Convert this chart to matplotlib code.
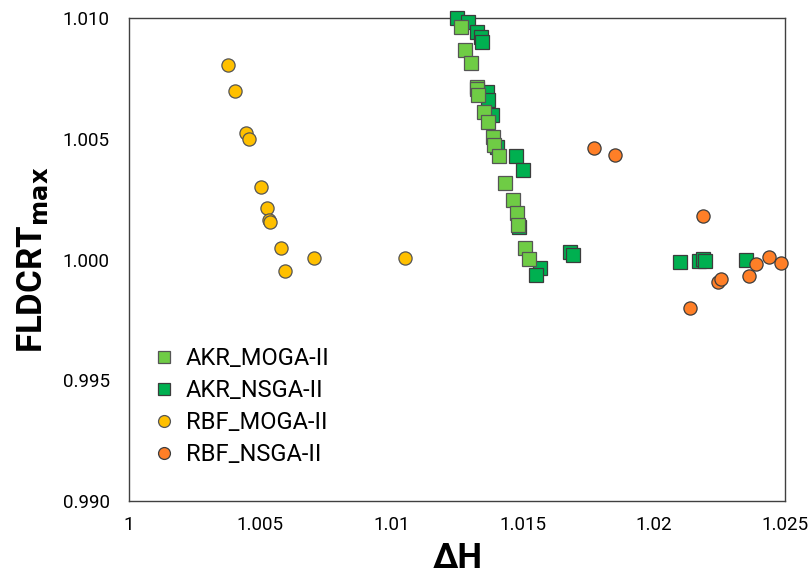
import numpy as np
import matplotlib.pyplot as plt

plt.rcParams['font.family'] = ['Roboto', 'DejaVu Sans']

# AKR_MOGA-II
akr_moga_x = [1.01267, 1.01282, 1.01303, 1.01325, 1.01326, 1.01331, 1.01353, 1.01369,
              1.01388, 1.01391, 1.01411, 1.01434, 1.01462, 1.01479, 1.01483, 1.01511, 1.01526]
akr_moga_y = [1.00961, 1.00867, 1.00812, 1.00716, 1.00706, 1.00682, 1.00609, 1.00569,
              1.00508, 1.00475, 1.00429, 1.00316, 1.00246, 1.00193, 1.00143, 1.00046, 1.00001]
# AKR_NSGA-II
akr_nsga_x = [1.01249, 1.01293, 1.01325, 1.01340, 1.01344, 1.01363, 1.01369, 1.01382,
              1.01401, 1.01476, 1.01503, 1.01486, 1.01566, 1.01551, 1.01681, 1.01693,
              1.02100, 1.02174, 1.02186, 1.02195, 1.02350]
akr_nsga_y = [1.00999, 1.00982, 1.00943, 1.00923, 1.00899, 1.00695, 1.00660, 1.00598,
              1.00467, 1.00427, 1.00371, 1.00135, 0.99964, 0.99936, 1.00032, 1.00019,
              0.99988, 0.99995, 1.00001, 0.99995, 0.99998]
# RBF_MOGA-II
rbf_moga_x = [1.00376, 1.00404, 1.00445, 1.00457, 1.00502, 1.00527, 1.00534, 1.00536,
              1.00578, 1.00596, 1.00705, 1.01053]
rbf_moga_y = [1.00805, 1.00698, 1.00525, 1.00498, 1.00301, 1.00215, 1.00164, 1.00154,
              1.00046, 0.99954, 1.00006, 1.00006]
# RBF_NSGA-II
rbf_nsga_x = [1.01773, 1.01853, 1.02189, 1.02137, 1.02244, 1.02257, 1.02363, 1.02390,
              1.02440, 1.02486]
rbf_nsga_y = [1.00460, 1.00433, 1.00179, 0.99799, 0.99908, 0.99921, 0.99932, 0.99980,
              1.00009, 0.99986]

xticks = [1, 1.005, 1.01, 1.015, 1.02, 1.025]
xticklabels = ['1', '1.005', '1.01', '1.015', '1.02', '1.025']
yticks = [0.990, 0.995, 1.000, 1.005, 1.010]

fig = plt.figure(figsize=(8.08, 5.77), dpi=100)
ax = fig.add_axes([0.1597, 0.1317, 0.8118, 0.8371])

ms = 9.5
ec = '#3c3c3c'
ax.plot(akr_nsga_x, akr_nsga_y, 's', ms=ms, mfc='#00b050', mec=ec, mew=0.9,
        clip_on=False, zorder=3, label='AKR_NSGA-II')
ax.plot(akr_moga_x, akr_moga_y, 's', ms=ms, mfc='#6fcc45', mec='#555555', mew=0.9,
        clip_on=False, zorder=4, label='AKR_MOGA-II')
ax.plot(rbf_moga_x, rbf_moga_y, 'o', ms=ms, mfc='#ffc000', mec='#555555', mew=0.9,
        clip_on=False, zorder=4, label='RBF_MOGA-II')
ax.plot(rbf_nsga_x, rbf_nsga_y, 'o', ms=ms, mfc='#ff7f27', mec=ec, mew=0.9,
        clip_on=False, zorder=4, label='RBF_NSGA-II')

ax.set_xlim(1, 1.025)
ax.set_ylim(0.990, 1.010)
ax.set_xticks(xticks)
ax.set_xticklabels(xticklabels)
ax.set_yticks(yticks)
ax.set_yticklabels(['%.3f' % v for v in yticks])
ax.tick_params(length=0, labelsize=13.5)
ax.tick_params(axis='y', pad=14)
ax.tick_params(axis='x', pad=11)
for s in ax.spines.values():
    s.set_color('#404040')
    s.set_linewidth(1.0)

# x label placed directly so it stays inside the canvas
fig.text(0.566, 1 - 558 / 577, 'ΔH', fontsize=25, fontweight='bold',
         ha='center', va='center')
ax.set_ylabel('FLDCRT$_{\\mathbf{max}}$', fontsize=25, fontweight='bold', labelpad=9)

h, l = ax.get_legend_handles_labels()
order = [1, 0, 2, 3]
ax.legend([h[i] for i in order], [l[i] for i in order], loc='lower left',
          bbox_to_anchor=(0.0, 0.028), frameon=False, fontsize=17, markerscale=0.9,
          handletextpad=0.3, labelspacing=0.38, handlelength=1.2)

fig.savefig('out.png', dpi=100)
